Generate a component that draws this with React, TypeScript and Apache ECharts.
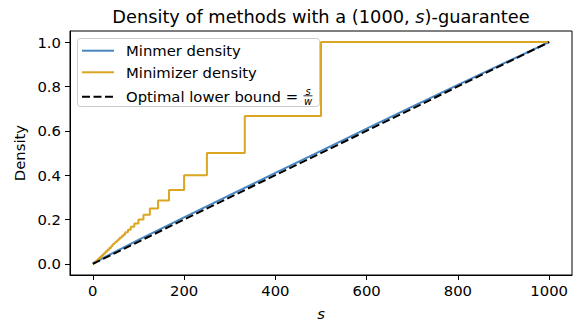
import React, { useEffect, useRef } from "react";
import * as echarts from "echarts";

// ---- data ----
const minmerS = [0, 100, 200, 300, 400, 500, 600, 700, 800, 900, 1000];
const minmerDensity = [0.003, 0.108, 0.21, 0.31, 0.41, 0.51, 0.61, 0.709, 0.807, 0.904, 1.0];

// step starts (value holds until next s)
const minimizerS = [0, 4, 8, 12, 16, 20, 24, 28, 32, 36, 40, 43, 45, 48, 50, 53, 56, 59, 63, 67, 71, 77, 83, 91, 100, 111, 125, 143, 167, 200, 250, 333, 500, 1000];
const minimizerDensity = [0.002, 0.008, 0.016, 0.024, 0.032, 0.04, 0.048, 0.056, 0.064, 0.072, 0.08, 0.087, 0.091, 0.095, 0.1, 0.105, 0.111, 0.118, 0.125, 0.133, 0.143, 0.154, 0.167, 0.182, 0.2, 0.222, 0.25, 0.286, 0.333, 0.4, 0.5, 0.667, 1.0, 1.0];

const optimalS = [0, 1000];
const optimalDensity = [0, 1.0];

const xTicks = [0, 200, 400, 600, 800, 1000];
const yTicks = [0, 0.2, 0.4, 0.6, 0.8, 1.0];

const legendNames = ["Minmer density", "Minimizer density", "Optimal lower bound ="];

const BLUE = "#4886c2";
const GOLD = "#daa520";
const FONT = "DejaVu Sans";

export default function App() {
  const ref = useRef<HTMLDivElement>(null);
  useEffect(() => {
    const chart = echarts.init(ref.current!, null, { renderer: "svg" });
    const zip = (a: number[], b: number[]) => a.map((v, i) => [v, b[i]]);
    const legendRows = [50.7, 72.3, 96.7];
    const legendColors = [BLUE, GOLD, "#000"];
    const graphics: any[] = [
      {
        type: "text",
        x: 321,
        y: 16.5,
        style: {
          text: "Density of methods with a (1000, {i|s})-guarantee",
          font: `17.8px ${FONT}`,
          fill: "#000",
          textAlign: "center",
          textVerticalAlign: "middle",
          rich: { i: { fontStyle: "italic", fontSize: 17.8, fontFamily: FONT } },
        },
      },
      {
        type: "rect",
        shape: { x: 77.5, y: 38.5, width: 242, height: 68, r: 3 },
        style: { fill: "rgba(255,255,255,0.8)", stroke: "#cccccc", lineWidth: 1 },
        z: 100,
      },
    ];
    legendRows.forEach((y, i) => {
      graphics.push({
        type: "line",
        shape: { x1: 82, y1: y, x2: 114, y2: y },
        style: { stroke: legendColors[i], lineWidth: 2, lineDash: i === 2 ? [8, 3.5] : null },
        z: 101,
      });
      graphics.push({
        type: "text",
        x: 126,
        y,
        style: {
          text: legendNames[i],
          font: `14.8px ${FONT}`,
          fill: "#000",
          textVerticalAlign: "middle",
        },
        z: 101,
      });
    });
    graphics.push(
      {
        type: "text",
        x: 308,
        y: 91,
        style: { text: "s", font: `italic 10px ${FONT}`, fill: "#000", textAlign: "center", textVerticalAlign: "middle" },
        z: 101,
      },
      {
        type: "line",
        shape: { x1: 303.5, y1: 95.8, x2: 312.5, y2: 95.8 },
        style: { stroke: "#000", lineWidth: 0.8 },
        z: 101,
      },
      {
        type: "text",
        x: 308,
        y: 101,
        style: { text: "w", font: `italic 10px ${FONT}`, fill: "#000", textAlign: "center", textVerticalAlign: "middle" },
        z: 101,
      }
    );

    chart.setOption({
      animation: false,
      grid: {
        left: 70,
        right: 2,
        top: 31,
        bottom: 50,
        containLabel: false,
        outerBoundsMode: "none",
        show: true,
        borderColor: "#000",
        borderWidth: 1,
        backgroundColor: "transparent",
      },
      xAxis: {
        type: "value",
        min: -50,
        max: 1050,
        name: "s",
        nameLocation: "middle",
        nameGap: 31,
        nameTextStyle: { fontFamily: FONT, fontSize: 14.8, fontStyle: "italic", color: "#000" },
        splitLine: { show: false },
        axisLine: { show: true, onZero: false, lineStyle: { color: "#000", width: 1 } },
        axisTick: { show: true, inside: false, length: 5, lineStyle: { color: "#000" }, customValues: xTicks },
        axisLabel: { fontFamily: FONT, fontSize: 14.8, color: "#000", margin: 8, customValues: xTicks, formatter: (v: number) => String(v) },
      },
      yAxis: {
        type: "value",
        min: -0.05,
        max: 1.05,
        name: "Density",
        nameLocation: "middle",
        nameGap: 42,
        nameTextStyle: { fontFamily: FONT, fontSize: 14.8, color: "#000" },
        splitLine: { show: false },
        axisLine: { show: true, onZero: false, lineStyle: { color: "#000", width: 1 } },
        axisTick: { show: true, inside: false, length: 5, lineStyle: { color: "#000" }, customValues: yTicks },
        axisLabel: { fontFamily: FONT, fontSize: 14.8, color: "#000", margin: 9, customValues: yTicks, formatter: (v: number) => v.toFixed(1) },
      },
      series: [
        {
          type: "line",
          name: legendNames[0],
          data: zip(minmerS, minmerDensity),
          symbol: "none",
          lineStyle: { color: BLUE, width: 2 },
          itemStyle: { color: BLUE },
        },
        {
          type: "line",
          name: legendNames[1],
          data: zip(minimizerS, minimizerDensity),
          step: "end",
          symbol: "none",
          lineStyle: { color: GOLD, width: 2 },
          itemStyle: { color: GOLD },
        },
        {
          type: "line",
          name: legendNames[2],
          data: zip(optimalS, optimalDensity),
          symbol: "none",
          lineStyle: { color: "#000", width: 2, type: [8, 3.5] },
          itemStyle: { color: "#000" },
        },
      ],
      graphic: graphics,
    });
    return () => chart.dispose();
  }, []);
  return <div ref={ref} style={{ position: "absolute", left: 0, top: 0, width: 574, height: 325 }} />;
}
